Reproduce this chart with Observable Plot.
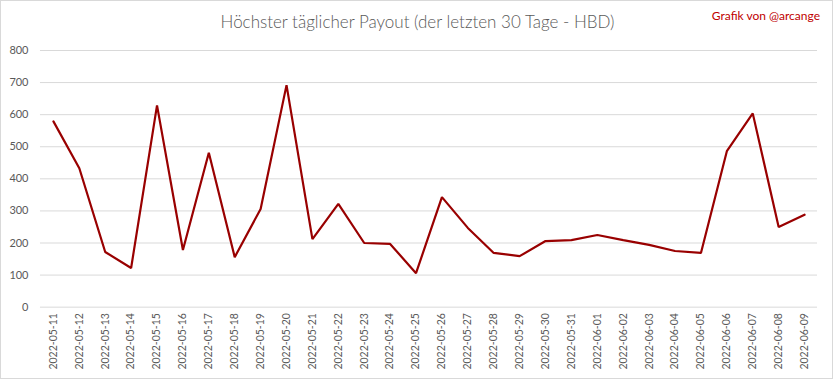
<!DOCTYPE html>
<html>
<head>
<meta charset="utf-8">
<script src="https://cdn.jsdelivr.net/npm/d3@7"></script>
<script src="https://cdn.jsdelivr.net/npm/@observablehq/plot@0.6"></script>
<style>
  html, body { margin: 0; padding: 0; background: #fff; }
  #wrap { position: relative; width: 833px; height: 379px; box-sizing: border-box; border: 1px solid #d9d9d9; overflow: hidden; font-family: Lato, "Open Sans", sans-serif; }
  #title { position: absolute; left: 0; width: 833px; top: 10px; text-align: center; font-size: 17px; font-weight: 300; color: #595959; }
  #credit { position: absolute; right: 12px; top: 7px; font-size: 12px; color: #c00000; }
  #chart { position: absolute; left: -1px; top: 39px; }
</style>
</head>
<body>
<div id="wrap">
  <div id="title">Höchster täglicher Payout (der letzten 30 Tage - HBD)</div>
  <div id="credit">Grafik von @arcange</div>
  <div id="chart"></div>
</div>
<script>
const dates = ["2022-05-11","2022-05-12","2022-05-13","2022-05-14","2022-05-15","2022-05-16","2022-05-17","2022-05-18","2022-05-19","2022-05-20","2022-05-21","2022-05-22","2022-05-23","2022-05-24","2022-05-25","2022-05-26","2022-05-27","2022-05-28","2022-05-29","2022-05-30","2022-05-31","2022-06-01","2022-06-02","2022-06-03","2022-06-04","2022-06-05","2022-06-06","2022-06-07","2022-06-08","2022-06-09"];
const payouts = [579,433,172,122,629,178,481,156,306,692,212,322,200,197,106,343,247,169,159,206,209,225,209,194,175,169,486,604,250,288];
const yTicks = [0,100,200,300,400,500,600,700,800];

const data = dates.map((d, i) => ({date: d, value: payouts[i]}));

const chart = Plot.plot({
  width: 833,
  height: 340,
  marginTop: 10,
  marginLeft: 40,
  marginRight: 15,
  marginBottom: 73,
  style: {fontFamily: "Lato, 'Open Sans', sans-serif", fontSize: "11px", color: "#595959", background: "transparent"},
  x: {type: "point", domain: dates, padding: 0.5, round: false, label: null},
  y: {domain: [0, 800], label: null},
  marks: [
    Plot.ruleY(yTicks, {stroke: "#d9d9d9", strokeWidth: 1}),
    Plot.axisY({ticks: yTicks, tickSize: 0, tickPadding: 12, label: null, fontSize: 11}),
    Plot.axisX({tickSize: 0, tickPadding: 6, tickRotate: -90, label: null, fontSize: 10.5}),
    Plot.line(data, {x: "date", y: "value", stroke: "#990000", strokeWidth: 2.2, strokeLinejoin: "miter"})
  ]
});
document.getElementById("chart").appendChild(chart);
</script>
</body>
</html>
